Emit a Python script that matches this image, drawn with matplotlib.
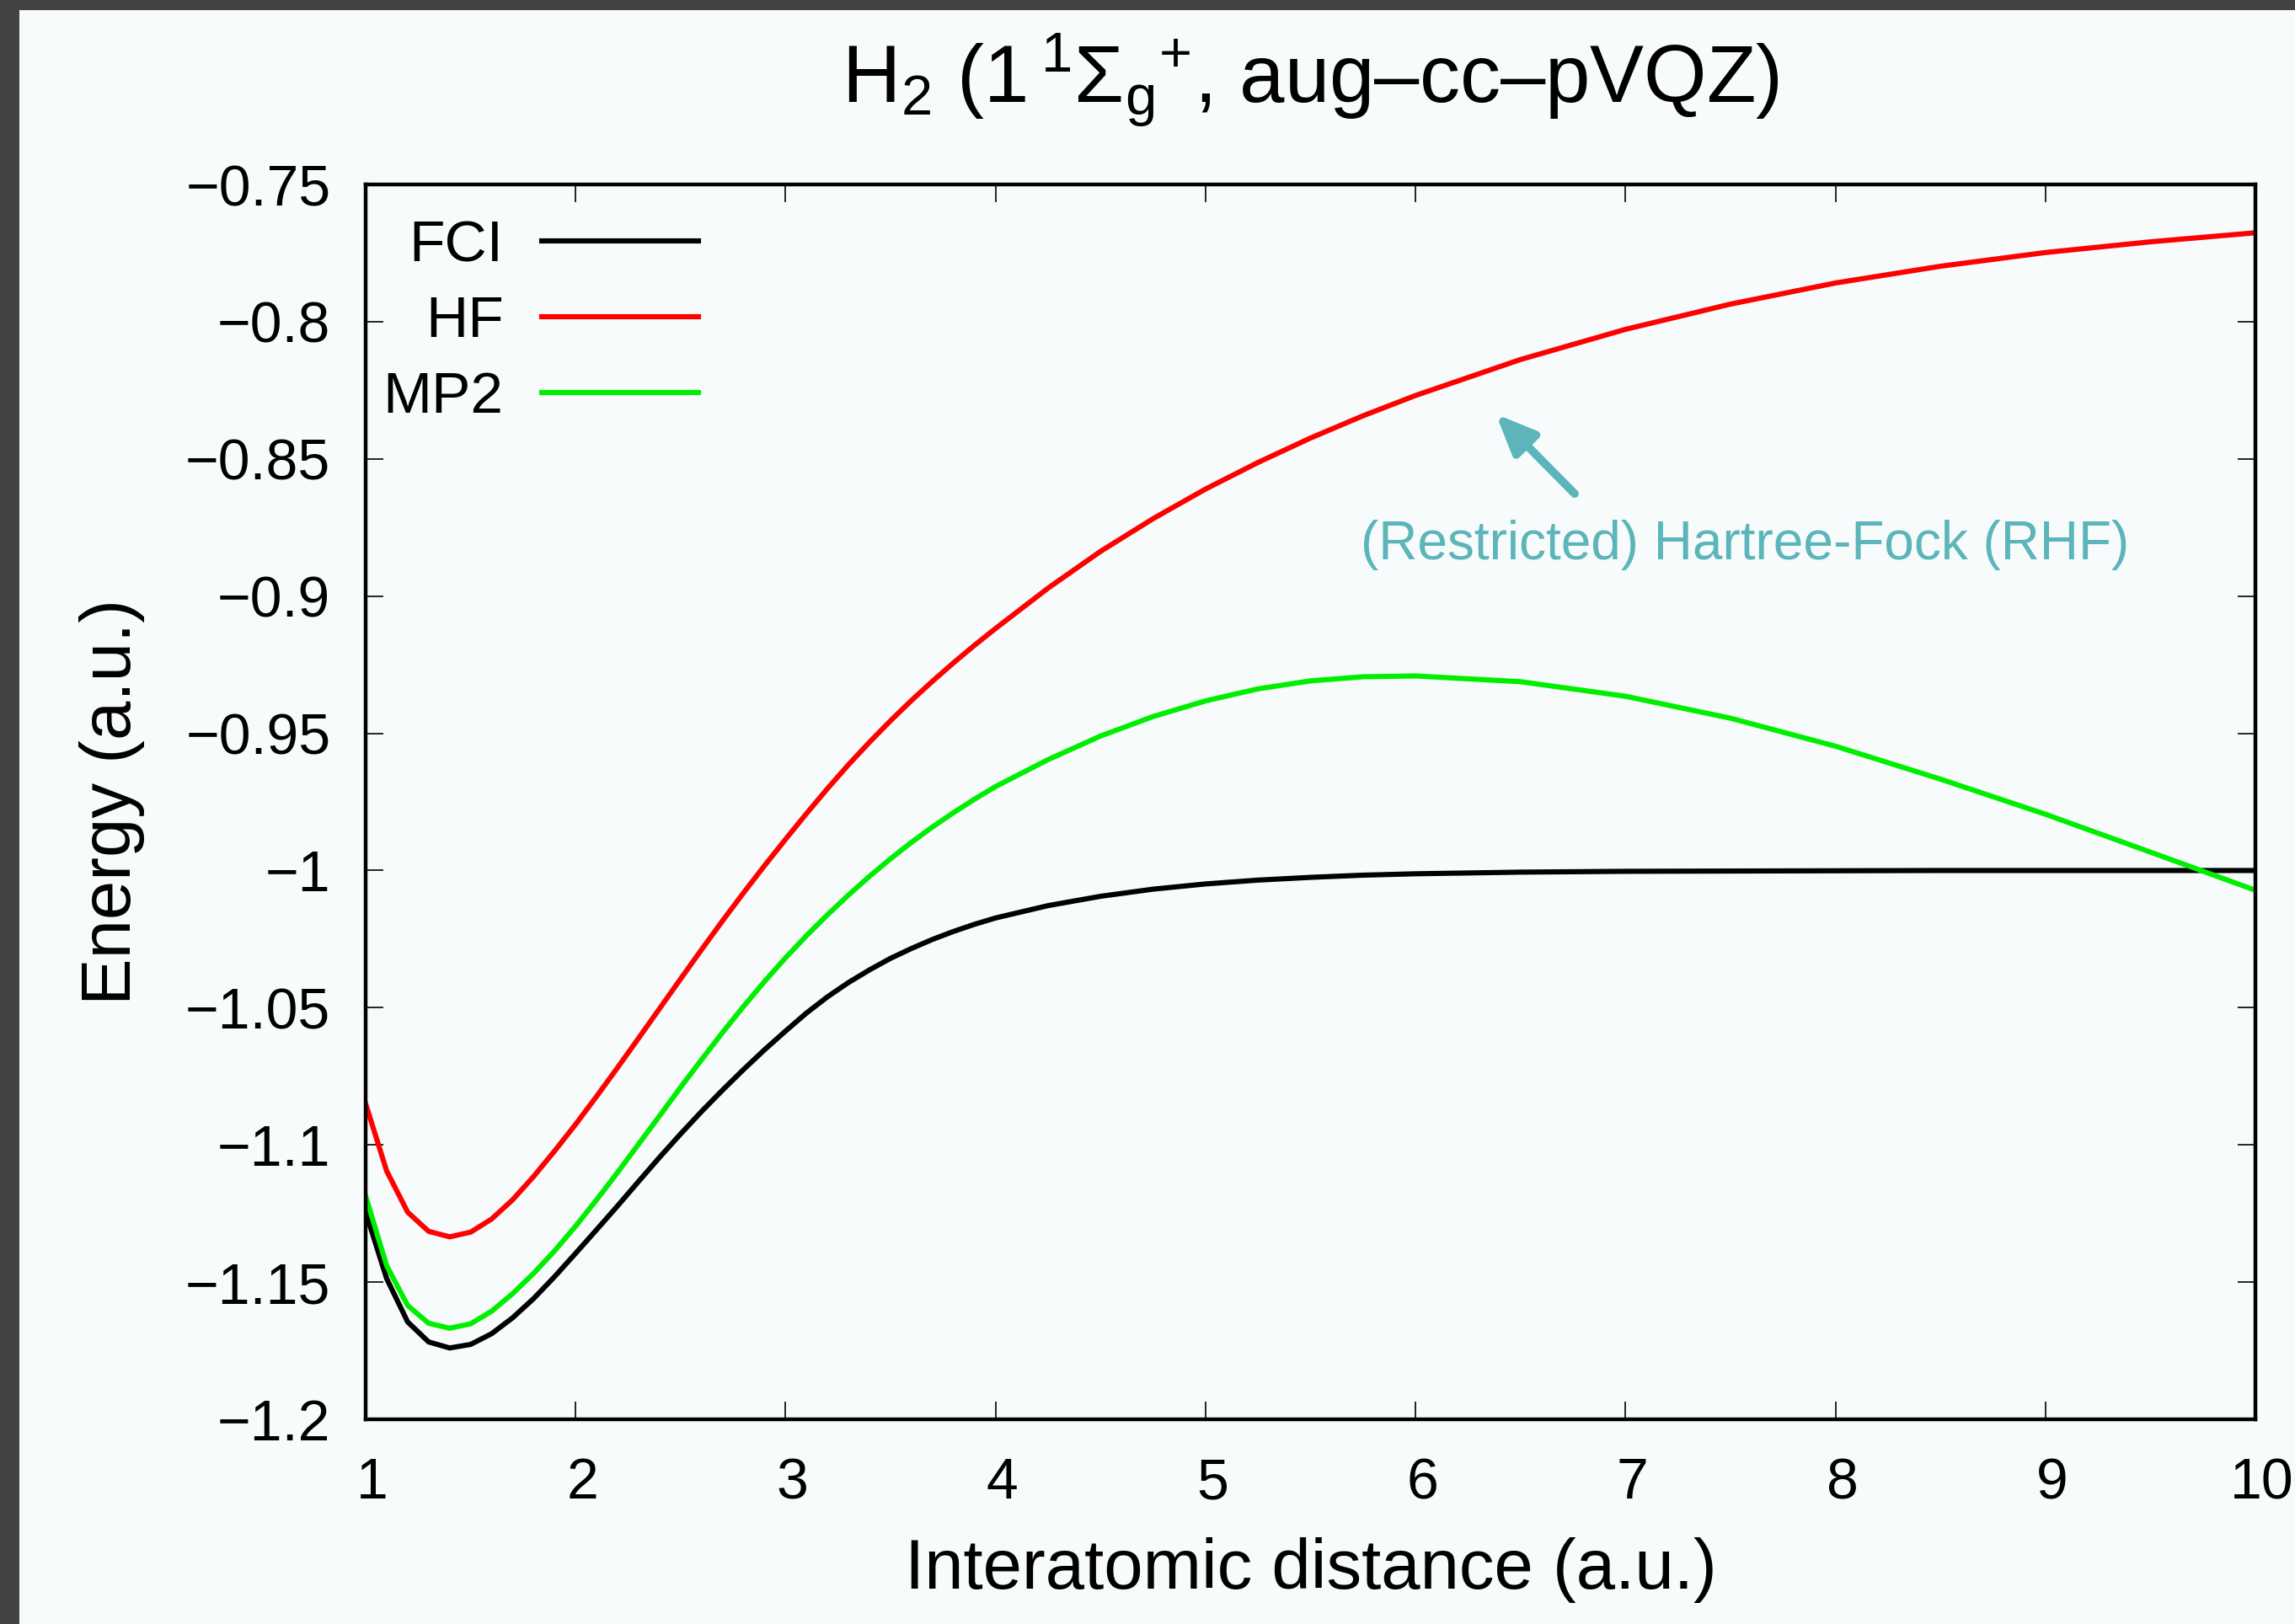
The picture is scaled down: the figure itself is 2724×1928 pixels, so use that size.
import matplotlib
matplotlib.use('Agg')
import matplotlib.pyplot as plt
from matplotlib.patches import Rectangle
from matplotlib.transforms import ScaledTranslation

# ---------------- data ----------------
R = [1.0, 1.1, 1.2, 1.3, 1.4, 1.5, 1.6, 1.7, 1.8, 1.9, 2.0,
     2.1, 2.2, 2.3, 2.4, 2.5, 2.6, 2.7, 2.8, 2.9, 3.0,
     3.1, 3.2, 3.3, 3.4, 3.5, 3.6, 3.7, 3.8, 3.9, 4.0,
     4.25, 4.5, 4.75, 5.0, 5.25, 5.5, 5.75, 6.0,
     6.5, 7.0, 7.5, 8.0, 8.5, 9.0, 9.5, 10.0]

E_FCI = [-1.1245, -1.1487, -1.1645, -1.1718, -1.1740, -1.1727, -1.1688, -1.1630,
         -1.1560, -1.1480, -1.1395,
         -1.1309, -1.1222, -1.1133, -1.1045, -1.0960, -1.0878, -1.0800, -1.0725,
         -1.0653, -1.0585,
         -1.0519, -1.0460, -1.0408, -1.0362, -1.0320, -1.0284, -1.0251, -1.0222,
         -1.0196, -1.0173,
         -1.0128, -1.0094, -1.0068, -1.0049, -1.0035, -1.0025, -1.0017, -1.0012,
         -1.0006, -1.0003, -1.0002, -1.0001, -1.0000, -1.0000, -1.0000, -1.0000]

E_HF = [-1.0850, -1.1095, -1.1245, -1.1315, -1.1335, -1.1318, -1.1270, -1.1200,
        -1.1115, -1.1022, -1.0925,
        -1.0823, -1.0718, -1.0611, -1.0503, -1.0395, -1.0288, -1.0183, -1.0081,
        -0.9982, -0.9886,
        -0.9792, -0.9701, -0.9614, -0.9532, -0.9454, -0.9380, -0.9310, -0.9243,
        -0.9179, -0.9118,
        -0.8971, -0.8837, -0.8718, -0.8610, -0.8513, -0.8424, -0.8343, -0.8269,
        -0.8138, -0.8028, -0.7936, -0.7859, -0.7798, -0.7748, -0.7709, -0.7676]

E_MP2 = [-1.1186, -1.1440, -1.1585, -1.1650, -1.1668, -1.1652, -1.1606, -1.1542,
         -1.1468, -1.1386, -1.1296,
         -1.1200, -1.1100, -1.0997, -1.0894, -1.0790, -1.0689, -1.0590, -1.0495,
         -1.0404, -1.0318,
         -1.0237, -1.0161, -1.0089, -1.0021, -0.9957, -0.9897, -0.9841, -0.9789,
         -0.9740, -0.9694,
         -0.9596, -0.9510, -0.9439, -0.9382, -0.9338, -0.9309, -0.9294, -0.9291,
         -0.9312, -0.9365, -0.9445, -0.9547, -0.9667, -0.9795, -0.9933, -1.0072]

series_labels = ['FCI', 'HF', 'MP2']
series_colors = ['#000000', '#ff0000', '#00ee00']

xticks = [1, 2, 3, 4, 5, 6, 7, 8, 9, 10]
xtick_labels = ['1', '2', '3', '4', '5', '6', '7', '8', '9', '10']
yticks = [-1.2, -1.15, -1.1, -1.05, -1.0, -0.95, -0.9, -0.85, -0.8, -0.75]
ytick_labels = ['\u22121.2', '\u22121.15', '\u22121.1', '\u22121.05', '\u22121',
                '\u22120.95', '\u22120.9', '\u22120.85', '\u22120.8', '\u22120.75']

title_text = ('H$_{\\mathrm{2}}$ (1$\\,{}^{\\mathrm{1}}\\Sigma_{\\mathrm{g}}{}^{\\mathrm{+}}$, '
              'aug\u2013cc\u2013pVQZ)')
xlabel_text = 'Interatomic distance (a.u.)'
ylabel_text = 'Energy (a.u.)'
annot_text = '(Restricted) Hartree-Fock (RHF)'
annot_text_pos = (5.74, -0.8866)
arrow_tail = (6.758, -0.8627)
arrow_head = (6.383, -0.8337)

# ---------------- styling ----------------
plt.rcParams['font.family'] = ['Liberation Sans', 'DejaVu Sans']
plt.rcParams['mathtext.fontset'] = 'custom'
plt.rcParams['mathtext.rm'] = 'Liberation Sans'
plt.rcParams['mathtext.it'] = 'Liberation Sans:italic'
plt.rcParams['mathtext.bf'] = 'Liberation Sans:bold'

BG = '#f7fbfc'
DARK = '#434343'
TEAL = '#5bb5b9'

W, H = 2724, 1928
DPI = 200
fig = plt.figure(figsize=(W / DPI, H / DPI), dpi=DPI, facecolor=BG)

# dark screenshot frame on left and top
fig.patches.append(Rectangle((0, 0), 23 / W, 1, transform=fig.transFigure,
                             facecolor=DARK, edgecolor='none', zorder=10))
fig.patches.append(Rectangle((0, 1 - 12 / H), 1, 12 / H, transform=fig.transFigure,
                             facecolor=DARK, edgecolor='none', zorder=10))

ax = fig.add_axes([434 / W, 1 - 1685 / H, (2677 - 434) / W, (1685 - 219) / H])
ax.set_facecolor(BG)

for E, lab, col in zip([E_FCI, E_HF, E_MP2], series_labels, series_colors):
    ax.plot(R, E, color=col, lw=2.2, label=lab)

ax.set_xlim(1, 10)
ax.set_ylim(-1.2, -0.75)
ax.set_xticks(xticks)
ax.set_xticklabels(xtick_labels)
ax.set_yticks(yticks)
ax.set_yticklabels(ytick_labels)

for s in ax.spines.values():
    s.set_linewidth(1.6)
    s.set_zorder(5)

ax.tick_params(axis='both', direction='in', length=7.5, width=0.6,
               top=True, right=True, labelsize=24.5, colors='black')
ax.tick_params(axis='x', pad=16)
ax.tick_params(axis='y', pad=15)

shift = ScaledTranslation(8 / DPI, 0, fig.dpi_scale_trans)
for lbl in ax.get_xticklabels():
    lbl.set_transform(lbl.get_transform() + shift)

ax.set_xlabel(xlabel_text, fontsize=30)
ax.xaxis.set_label_coords(0.5, -0.0955)
ax.set_ylabel(ylabel_text, fontsize=30)
ax.yaxis.set_label_coords(-0.117, 0.5)

fig.text(1555 / W, 1 - 122 / H, title_text, ha='center', va='baseline', fontsize=34.5)

ax.legend(loc='upper right', bbox_to_anchor=(0.1761, 0.9715), frameon=False,
          markerfirst=False, fontsize=25, handlelength=2.68, handletextpad=0.65,
          labelspacing=0.37, borderpad=0, borderaxespad=0)

ax.text(annot_text_pos[0], annot_text_pos[1], annot_text, color=TEAL, fontsize=23,
        ha='left', va='baseline')
ax.annotate('', xy=arrow_head, xytext=arrow_tail,
            arrowprops=dict(arrowstyle='-|>,head_length=0.7,head_width=0.3',
                            mutation_scale=20, lw=3.5, color=TEAL,
                            shrinkA=0, shrinkB=0))

fig.savefig('out.png', dpi=DPI, facecolor=fig.get_facecolor())
